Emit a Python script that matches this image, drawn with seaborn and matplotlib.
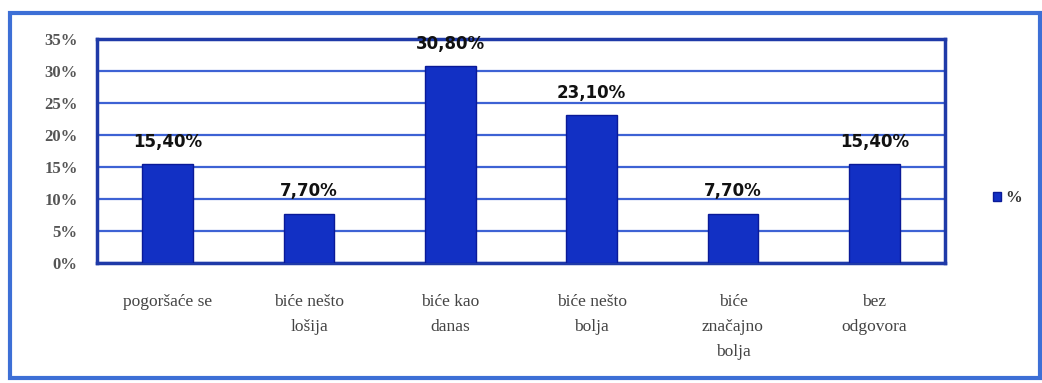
import matplotlib
matplotlib.use("Agg")
import matplotlib.pyplot as plt
import matplotlib.patches as mpatches
import seaborn as sns
import pandas as pd

categories = ["pogoršaće se", "biće nešto\nlošija", "biće kao\ndanas",
              "biće nešto\nbolja", "biće\nznačajno\nbolja", "bez\nodgovora"]
values = [15.40, 7.70, 30.80, 23.10, 7.70, 15.40]
series = "%"
yticks = [0, 5, 10, 15, 20, 25, 30, 35]

df = pd.DataFrame({"cat": categories, "val": values, "s": [series] * len(values)})

sns.set_theme(style="white")
plt.rcParams['font.family'] = ['Liberation Serif', 'DejaVu Serif']

W, H = 1042, 383
fig = plt.figure(figsize=(W / 100, H / 100), dpi=100)
ax = fig.add_axes([97 / W, 1 - 263 / H, (945 - 97) / W, (263 - 39) / H])

sns.barplot(data=df, x="cat", y="val", hue="s", palette=["#1230c4"],
            saturation=1, width=0.36, ax=ax, edgecolor="#0a1a98",
            linewidth=1, zorder=3)

ax.set_ylim(0, 35)
ax.set_yticks(yticks)
ax.set_yticklabels([f"{t}%" for t in yticks], fontsize=12, fontweight="bold", color="#555555")
ax.set_xticks(range(len(categories)))
ax.set_xticklabels(categories, fontsize=12.5, color="#444444", linespacing=1.75)
ax.tick_params(axis="y", pad=14, length=0)
ax.tick_params(axis="x", pad=22, length=0)
ax.set_xlabel("")
ax.set_ylabel("")

ax.grid(axis="y", color="#3d62d4", linewidth=1.6, zorder=0)
ax.set_axisbelow(True)
for sp in ax.spines.values():
    sp.set_color("#1f3aa8")
    sp.set_linewidth(2.5)

for i, v in enumerate(values):
    ax.annotate(f"{v:.2f}%".replace(".", ","), (i, v), xytext=(0, 16),
                textcoords="offset points", ha="center", va="center",
                fontsize=12, fontweight="bold", color="#111111",
                family=["DejaVu Sans"])

leg = ax.legend(loc="center left", bbox_to_anchor=(978 / W, 1 - 198 / H),
                bbox_transform=fig.transFigure, frameon=False, fontsize=12,
                handlelength=0.45, handleheight=0.45, handletextpad=0.3)
for t in leg.get_texts():
    t.set_fontweight("bold")
    t.set_color("#333333")

frame = mpatches.Rectangle((10 / W, 1 - 378 / H), (1040 - 10) / W, (378 - 13) / H,
                           transform=fig.transFigure, fill=False,
                           edgecolor="#3d6fd6", linewidth=3)
fig.patches.append(frame)

fig.savefig("out.png", dpi=100)
